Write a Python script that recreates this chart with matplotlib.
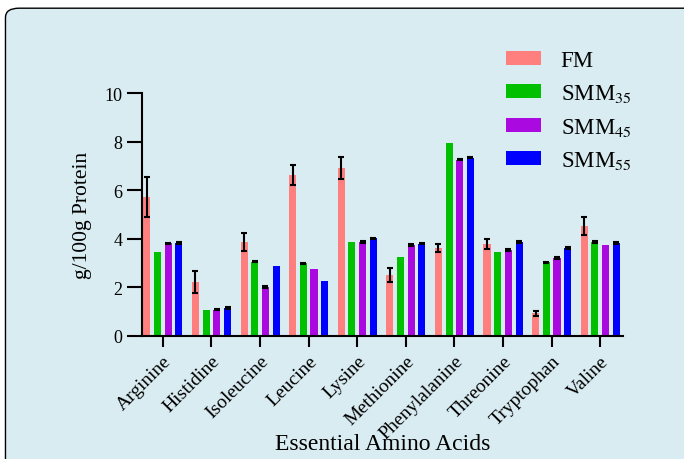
import numpy as np
import matplotlib
matplotlib.use("Agg")
import matplotlib.pyplot as plt
from matplotlib.patches import FancyBboxPatch

plt.rcParams['font.family'] = ['Liberation Serif', 'DejaVu Serif']
plt.rcParams['mathtext.fontset'] = 'stix'

# data
acids = ['Arginine', 'Histidine', 'Isoleucine', 'Leucine', 'Lysine',
         'Methionine', 'Phenylalanine', 'Threonine', 'Tryptophan', 'Valine']
fm = [5.71, 2.21, 3.86, 6.62, 6.91, 2.50, 3.61, 3.78, 0.92, 4.52]
fm_err = [0.83, 0.47, 0.38, 0.40, 0.47, 0.29, 0.18, 0.19, 0.10, 0.37]
smm35 = [3.45, 1.06, 3.05, 2.98, 3.86, 3.24, 7.94, 3.45, 3.02, 3.86]
smm35_err = [0, 0, 0.03, 0.03, 0, 0, 0, 0, 0.03, 0.03]
smm45 = [3.81, 1.07, 2.00, 2.75, 3.86, 3.74, 7.25, 3.53, 3.20, 3.74]
smm45_err = [0.03, 0.03, 0.03, 0, 0.03, 0.03, 0.03, 0.03, 0.03, 0]
smm55 = [3.82, 1.14, 2.87, 2.25, 4.01, 3.79, 7.34, 3.86, 3.61, 3.82]
smm55_err = [0.03, 0.03, 0, 0, 0.03, 0.03, 0.03, 0.03, 0.03, 0.03]

series = [
    ('FM', fm, fm_err, '#ff7f7f'),
    ('SMM$_{35}$', smm35, smm35_err, '#00c000'),
    ('SMM$_{45}$', smm45, smm45_err, '#aa0ae0'),
    ('SMM$_{55}$', smm55, smm55_err, '#0000ff'),
]

fig = plt.figure(figsize=(6.84, 4.6), dpi=100)
fig.patch.set_facecolor('white')

# rounded light blue panel behind everything
panel = FancyBboxPatch((0.008, -0.05), 1.05, 1.03,
                       boxstyle='round,pad=0,rounding_size=0.02',
                       transform=fig.transFigure, facecolor='#d9ecf1',
                       edgecolor='black', linewidth=1.0, zorder=-10)
fig.patches.append(panel)

ax = fig.add_axes([0.2076, 0.268, 0.7026, 0.5276])
ax.set_facecolor('none')

x = np.arange(len(acids))
offsets = [-0.33, -0.11, 0.11, 0.33]
width = 0.145
handles = []
for (name, vals, errs, col), off in zip(series, offsets):
    b = ax.bar(x + off, vals, width, color=col, label=name, zorder=2)
    handles.append(b)
    errs = np.array(errs)
    keep = errs > 0
    ax.errorbar((x + off)[keep], np.array(vals)[keep], yerr=errs[keep],
                fmt='none', ecolor='black', elinewidth=1.5, capsize=2.5,
                capthick=1.5, zorder=3)

ax.set_xlim(-0.43, 9.46)
ax.set_ylim(0, 10)
ax.set_yticks([0, 2, 4, 6, 8, 10])
ax.set_xticks(x)
ax.set_xticklabels(acids, rotation=45, ha='right', rotation_mode='anchor',
                   fontsize=14)
ax.tick_params(axis='y', labelsize=13, length=11, width=1.5, direction='out',
               pad=3)
ax.tick_params(axis='x', length=8, width=1.5, direction='out', pad=4)
for s in ['top', 'right']:
    ax.spines[s].set_visible(False)
for s in ['left', 'bottom']:
    ax.spines[s].set_linewidth(1.5)

ax.set_ylabel('g/100g Protein', fontsize=15.5)
ax.yaxis.set_label_coords(-0.105, 0.5)
ax.set_xlabel('Essential Amino Acids', fontsize=17)
ax.xaxis.set_label_coords(0.5, -0.40)

leg = fig.legend(handles=handles, loc='upper left',
                 bbox_to_anchor=(0.709, 0.934), frameon=False, fontsize=16.5,
                 handlelength=1.55, handleheight=0.58, labelspacing=0.5,
                 handletextpad=0.85)

fig.savefig('out.png', dpi=100)
